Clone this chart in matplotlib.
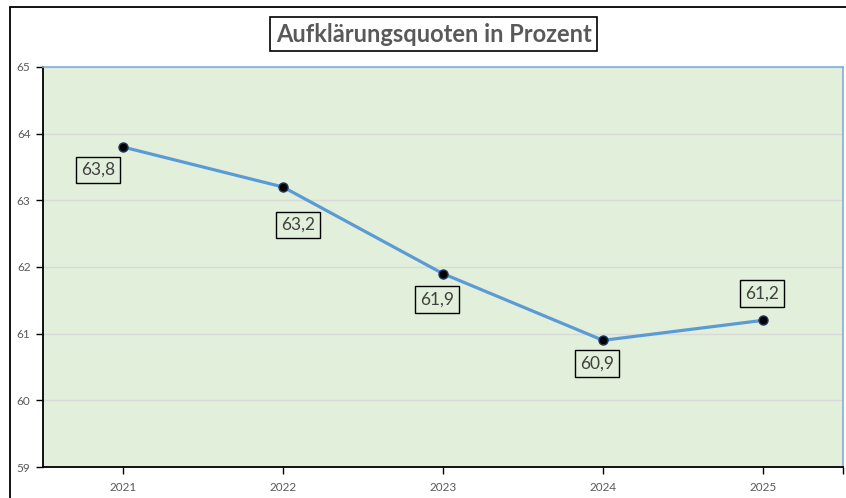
import matplotlib
matplotlib.use("Agg")
import matplotlib.pyplot as plt
from matplotlib.patches import Rectangle

years = ["2021", "2022", "2023", "2024", "2025"]
quotes = [63.8, 63.2, 61.9, 60.9, 61.2]
labels = ["63,8", "63,2", "61,9", "60,9", "61,2"]
# label offsets in pixels (dx, dy), screen coords
offsets = [(-25, -23), (15, -38), (-6, -26), (-6, -23), (-1, 27)]

plt.rcParams["font.family"] = ["Lato", "DejaVu Sans"]

W, H = 846, 498
fig = plt.figure(figsize=(W / 100, H / 100), dpi=100)

# outer chart frame (cut at right and bottom)
fig.patches.append(Rectangle((10 / W, -0.1), 1.2, 1 - 7 / H + 0.1, transform=fig.transFigure,
                             fill=False, edgecolor="black", lw=1.3))

ax = fig.add_axes([43 / W, 31 / H, 800 / W, 400 / H])
ax.set_facecolor("#E2EFDA")
ax.set_xlim(-0.5, 4.5)
ax.set_ylim(59, 65)
ax.set_yticks(range(59, 66))
ax.set_xticks(range(len(years)))
ax.set_xticklabels(years)
ax.grid(axis="y", color="#D9D9D9", lw=1)
ax.set_axisbelow(True)

for side in ["top", "right"]:
    ax.spines[side].set_color("#7FAEDB")
    ax.spines[side].set_linewidth(1.2)
for side in ["left", "bottom"]:
    ax.spines[side].set_color("black")
    ax.spines[side].set_linewidth(1.3)

ax.tick_params(axis="both", colors="black", labelcolor="#595959", labelsize=8.5, length=5, width=1)
ax.tick_params(axis="x", pad=6)
ax.tick_params(axis="y", pad=4)
# extra tick at the right end of the category axis
ax.set_xticks([4.5], minor=True)
ax.tick_params(axis="x", which="minor", length=5, width=1, colors="black")

x = list(range(len(years)))
ax.plot(x, quotes, color="#5B9BD5", lw=2.3, zorder=3)
ax.plot(x, quotes, ls="none", marker="o", ms=6.5, mfc="black", mec="#1F3864", mew=1, zorder=4)

for xi, yi, lab, (dx, dy) in zip(x, quotes, labels, offsets):
    ax.annotate(lab, (xi, yi), xytext=(dx * 0.72, dy * 0.72), textcoords="offset points",
                ha="center", va="center", fontsize=12.5, color="#404040", zorder=5,
                bbox=dict(boxstyle="square,pad=0.3", fc="#E2EFDA", ec="black", lw=1))

fig.text((271 + 596) / 2 / W, 1 - 34 / H, "Aufklärungsquoten in Prozent", ha="center", va="center",
         fontsize=17, fontweight="bold", color="#595959",
         bbox=dict(boxstyle="square,pad=0.22", fc="white", ec="black", lw=1.2))

fig.savefig("out.png", dpi=100)
